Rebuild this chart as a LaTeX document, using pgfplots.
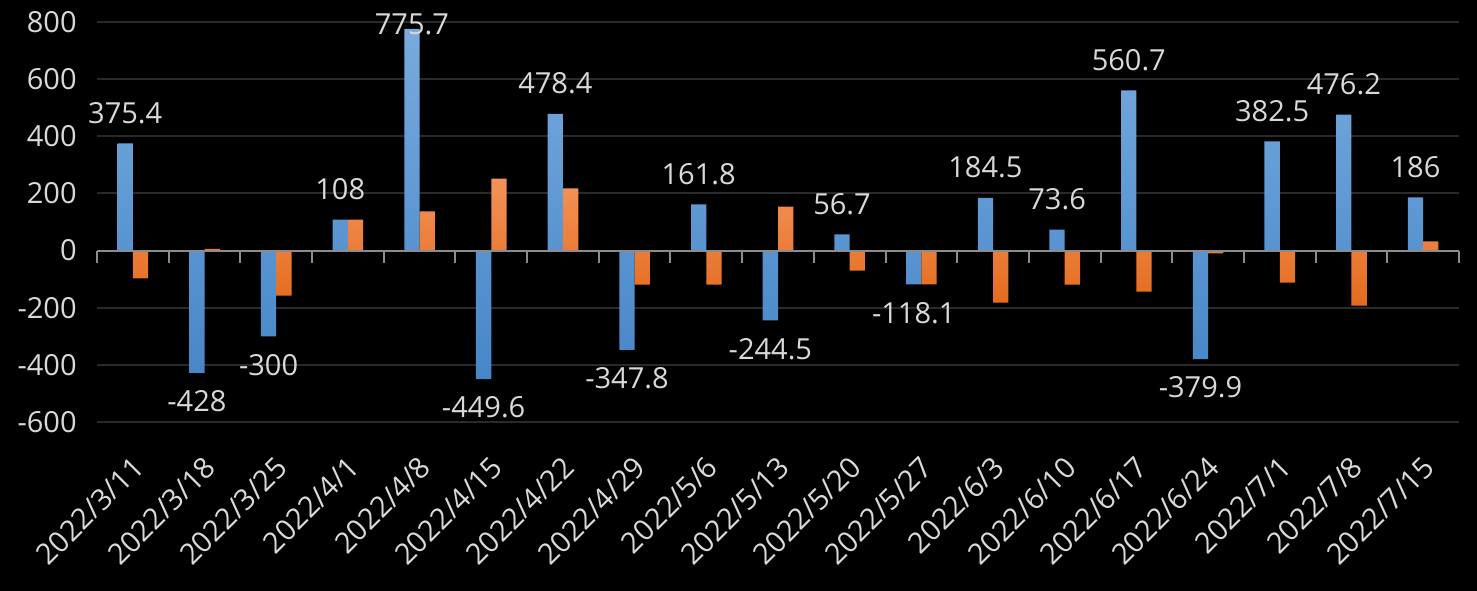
\documentclass[border=0pt]{standalone}
\usepackage{pgfplots}
\usepackage{pgfplotstable}
\pgfplotsset{compat=1.18}
\usepackage{fontspec}
\setmainfont{Open Sans}

\definecolor{txt}{HTML}{D9D9D9}
\definecolor{gridc}{HTML}{2A2A2A}
\definecolor{zeroc}{HTML}{8C8C8C}
\definecolor{btop}{HTML}{78ABDE}
\definecolor{bbot}{HTML}{4686C8}
\definecolor{otop}{HTML}{F3935A}
\definecolor{obot}{HTML}{E46B1D}

% x  blue  orange  label  label offset from bar end (bp)
\pgfplotstableread{
x  b      o     lab     dy
0  375.4  -97   375.4   15.2
1  -428   6     -428    -14.2
2  -300   -158  -300    -14.2
3  108    108   108     15.2
4  775.7  137   775.7   2.2
5  -449.6 252   -449.6  -14.2
6  478.4  218   478.4   15.2
7  -347.8 -119  -347.8  -14.2
8  161.8  -119  161.8   15.2
9  -244.5 154   -244.5  -14.2
10 56.7   -70   56.7    15.2
11 -118.1 -118  -118.1  -14.2
12 184.5  -182  184.5   15.2
13 73.6   -119  73.6    15.2
14 560.7  -144  560.7   15.2
15 -379.9 -10   -379.9  -14.2
16 382.5  -112  382.5   15.2
17 476.2  -193  476.2   15.2
18 186    32    186     15.2
}\data

\begin{document}
\begin{tikzpicture}
\fill[black] (-48.5bp,-84.5bp) rectangle (690bp,211bp);
\useasboundingbox (-48.5bp,-84.5bp) rectangle (690bp,211bp);
\begin{axis}[
    scale only axis, width=681bp, height=200bp,
    xmin=-0.5, xmax=18.5, ymin=-600, ymax=800,
    axis line style={draw=none},
    major tick length=0pt,
    ytick={-600,-400,...,800},
    yticklabels={-600,-400,-200,0,200,400,600,800},
    ymajorgrids, grid style={color=gridc, line width=1bp},
    xtick={0,...,18},
    xticklabels={2022/3/11,2022/3/18,2022/3/25,2022/4/1,2022/4/8,2022/4/15,2022/4/22,2022/4/29,2022/5/6,2022/5/13,2022/5/20,2022/5/27,2022/6/3,2022/6/10,2022/6/17,2022/6/24,2022/7/1,2022/7/8,2022/7/15},
    tick label style={font=\fontsize{14.5bp}{17bp}\selectfont, text=txt},
    yticklabel style={inner xsep=0pt, xshift=-10bp},
    xticklabel style={inner sep=0pt, xshift=3bp, yshift=-20bp, rotate=45, anchor=east},
    ybar=0pt, bar width=7.65bp,
    clip=false,
]
\addplot[draw=none, top color=btop, bottom color=bbot,
    nodes near coords, point meta=explicit symbolic,
    nodes near coords align={anchor=center},
    visualization depends on={\thisrow{dy} \as \dy},
    every node near coord/.append style={font=\fontsize{14.5bp}{17bp}\selectfont,
        text=txt, inner sep=0pt, anchor=center, yshift={\dy*1bp}}]
    table[x=x, y=b, meta=lab] {\data};
\addplot[draw=none, top color=otop, bottom color=obot]
    table[x=x, y=o] {\data};
\draw[zeroc, line width=1bp] (axis cs:-0.5,0) -- (axis cs:18.5,0);
\pgfplotsinvokeforeach{-0.5,0.5,1.5,2.5,3.5,4.5,5.5,6.5,7.5,8.5,9.5,10.5,11.5,12.5,13.5,14.5,15.5,16.5,17.5,18.5}{
    \draw[zeroc, line width=1bp] (axis cs:#1,0) -- ([yshift=-6bp]axis cs:#1,0);
}
\end{axis}
\end{tikzpicture}
\end{document}
